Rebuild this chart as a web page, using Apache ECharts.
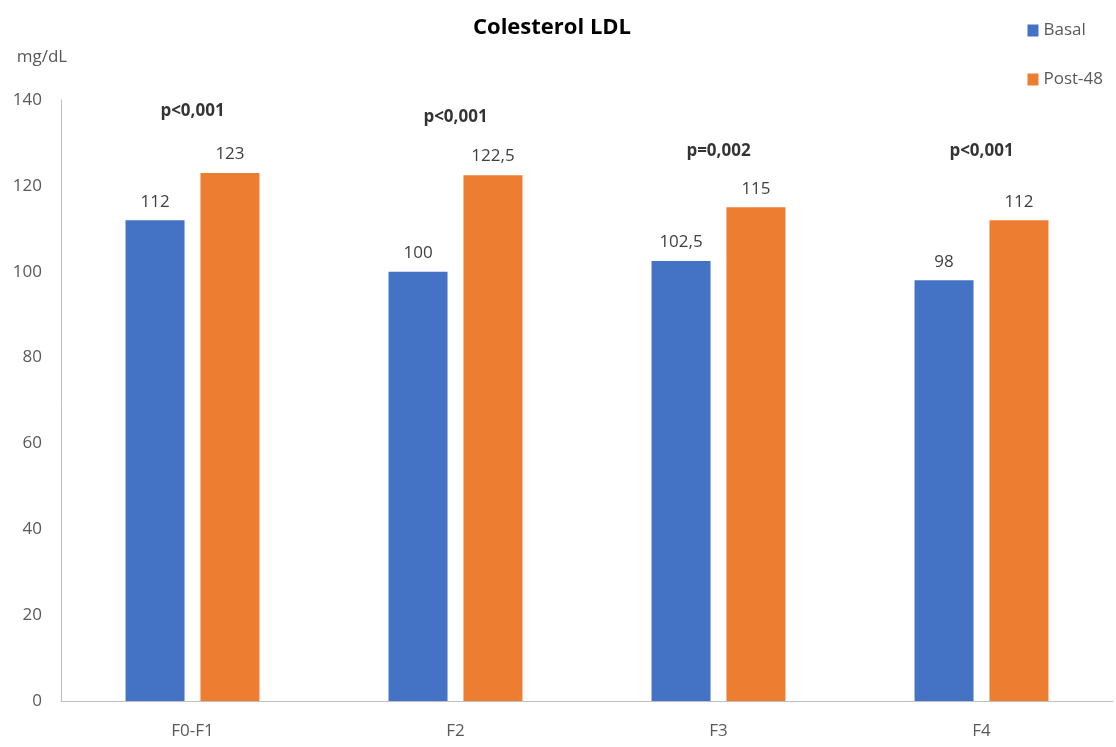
<!DOCTYPE html>
<html>
<head>
<meta charset="utf-8">
<script src="https://cdn.jsdelivr.net/npm/echarts@6/dist/echarts.min.js"></script>
<style>
  html, body { margin: 0; padding: 0; background: #fff; }
  #chart { width: 1116px; height: 747px; }
</style>
</head>
<body>
<div id="chart"></div>
<script>
// Stages of liver fibrosis
var categories = ['F0-F1', 'F2', 'F3', 'F4'];
// LDL cholesterol (mg/dL)
var basal = [112, 100, 102.5, 98];
var post48 = [123, 122.5, 115, 112];
// Significance of the change per stage and the height it is written at (mg/dL)
var pLabels = ['p<0,001', 'p<0,001', 'p=0,002', 'p<0,001'];
var pHeights = [137.4, 136, 128, 128.1];
var yTicks = [0, 20, 40, 60, 80, 100, 120, 140];

var FONT = 'Open Sans';
var fmtComma = function (p) { return String(p.value).replace('.', ','); };

var chart = echarts.init(document.getElementById('chart'));
chart.setOption({
  animation: false,
  textStyle: { fontFamily: FONT },
  title: {
    text: 'Colesterol LDL',
    left: 468,
    top: 12,
    textStyle: { fontFamily: FONT, fontSize: 22, fontWeight: 'bold', color: '#000' }
  },
  legend: {
    orient: 'vertical',
    right: 8,
    top: 17,
    itemGap: 32,
    itemWidth: 11,
    itemHeight: 12,
    icon: 'rect',
    textStyle: { fontFamily: FONT, fontSize: 17, color: '#595959' },
    data: ['Basal', 'Post-48']
  },
  grid: { left: 61, right: 3, top: 100, bottom: 46, containLabel: false },
  xAxis: {
    type: 'category',
    data: categories,
    axisLine: { lineStyle: { color: '#bfbfbf' } },
    axisTick: { show: false },
    axisLabel: { fontFamily: FONT, fontSize: 17, color: '#595959', margin: 22 }
  },
  yAxis: {
    type: 'value',
    min: yTicks[0],
    max: yTicks[yTicks.length - 1],
    interval: 20,
    name: 'mg/dL',
    nameLocation: 'end',
    nameGap: 34,
    nameTextStyle: { fontFamily: FONT, fontSize: 17, color: '#595959', align: 'center', padding: [0, 38, 0, 0] },
    axisLine: { show: true, lineStyle: { color: '#bfbfbf' } },
    axisTick: { show: false },
    splitLine: { show: false },
    axisLabel: { fontFamily: FONT, fontSize: 17, color: '#595959', margin: 19 }
  },
  series: [
    {
      name: 'Basal',
      type: 'bar',
      data: basal,
      barWidth: 59,
      barGap: '27%',
      itemStyle: { color: '#4472C4' },
      label: { show: true, position: 'top', distance: 10, formatter: fmtComma,
               fontFamily: FONT, fontSize: 17, color: '#404040' }
    },
    {
      name: 'Post-48',
      type: 'bar',
      data: post48,
      barWidth: 59,
      barGap: '27%',
      itemStyle: { color: '#ED7D31' },
      label: { show: true, position: 'top', distance: 10, formatter: fmtComma,
               fontFamily: FONT, fontSize: 17, color: '#404040' }
    },
    {
      name: 'p',
      type: 'scatter',
      symbolSize: 0,
      silent: true,
      data: pHeights.map(function (h, i) { return [categories[i], h]; }),
      label: {
        show: true,
        position: 'inside',
        formatter: function (p) { return pLabels[p.dataIndex]; },
        fontFamily: FONT, fontSize: 17, fontWeight: 'bold', color: '#000'
      }
    }
  ]
});
</script>
</body>
</html>
